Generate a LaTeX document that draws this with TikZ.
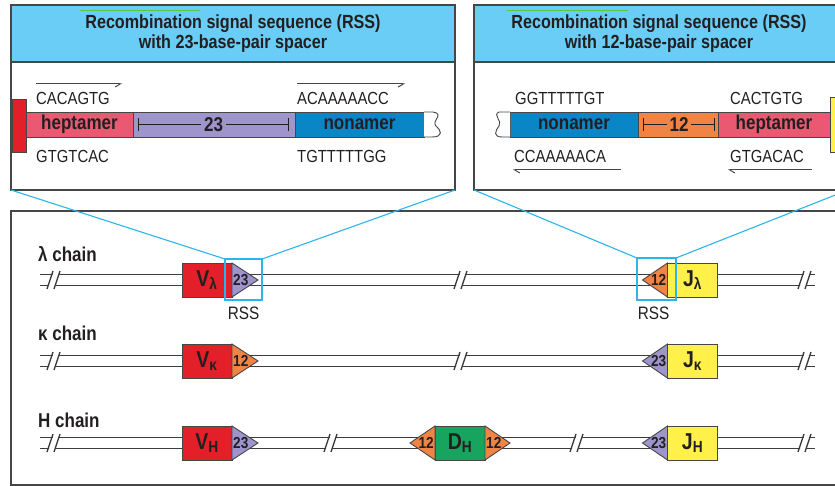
\documentclass[tikz,border=0pt]{standalone}
\usepackage{fontspec}
\setmainfont{Liberation Sans}[FakeStretch=0.85]
\usetikzlibrary{arrows.meta,positioning}
\definecolor{framegray}{RGB}{70,70,70}
\definecolor{strandgray}{RGB}{60,60,60}
\definecolor{inkdark}{RGB}{35,31,32}
\definecolor{hdrblue}{RGB}{106,205,245}
\definecolor{zoomblue}{RGB}{43,181,234}
\definecolor{tickgreen}{RGB}{90,200,60}
\definecolor{vred}{RGB}{227,32,42}
\definecolor{hepcol}{RGB}{233,90,114}
\definecolor{lavcol}{RGB}{157,149,204}
\definecolor{noncol}{RGB}{10,134,199}
\definecolor{orgcol}{RGB}{240,132,68}
\definecolor{yelcol}{RGB}{255,240,74}
\definecolor{grncol}{RGB}{23,164,94}
\tikzset{
  frame/.style={rectangle,draw=framegray,line width=1.3pt,inner sep=0pt,
    outer sep=0pt,anchor=north west},
  hdr/.style={frame,fill=hdrblue},
  title/.style={align=center,text=inkdark,inner sep=0pt,
    font=\fontsize{19}{20}\selectfont\bfseries},
  seg/.style={rectangle,draw=framegray,line width=0.9pt,fill=#1,
    minimum height=25pt,inner sep=0pt,outer sep=0pt,text=inkdark,
    font=\fontsize{20}{21}\selectfont\bfseries},
  endcap/.style={draw=framegray,line width=0.9pt,fill=white},
  seq/.style={anchor=base west,inner sep=0pt,text=inkdark,
    font=\fontsize{17.5}{19}\selectfont},
  readR/.style={draw=framegray,line width=1pt,
    -{Straight Barb[harpoon,swap,length=5pt,width=6pt]}},
  readL/.style={draw=framegray,line width=1pt,
    -{Straight Barb[harpoon,length=5pt,width=6pt]}},
  gene/.style={rectangle,draw=framegray,line width=0.9pt,fill=#1,
    minimum width=50pt,minimum height=34pt,inner sep=0pt,outer sep=0pt,
    text=inkdark,font=\fontsize{23}{24}\selectfont\bfseries},
  rss/.style={draw=framegray,line width=0.9pt,fill=#1},
  rssnum/.style={inner sep=0pt,text=inkdark,
    font=\fontsize{16}{17}\selectfont\bfseries},
  strand/.style={draw=strandgray,line width=1.9pt},
  chain/.style={anchor=base west,inner sep=0pt,text=inkdark,
    font=\fontsize{20}{21}\selectfont\bfseries},
  zoomsq/.style={rectangle,draw=zoomblue,line width=1.1pt,inner sep=0pt,
    outer sep=0pt},
  zoomln/.style={draw=zoomblue,line width=1.1pt},
  dnabrk/.pic={
    \fill[white] (-5,9) -- (1,-9) -- (7,-9) -- (1,9) -- cycle;
    \draw[strandgray,line width=1.4pt] (-6,9) -- (0,-9) (1,9) -- (7,-9);
  },
}
\begin{document}
\begin{tikzpicture}[x=1pt,y=-1pt]
  \useasboundingbox (0,0) rectangle (835,486);

  % --- RSS with 23-bp spacer
  \node[frame,minimum width=444pt,minimum height=185pt] (box23) at (11,5) {};
  \node[hdr,minimum width=444pt,minimum height=57pt] (hdr23) at (11,5) {};
  \node[title] (ttl23) at (233,34)
    {Recombination signal sequence (RSS)\\with 23-base-pair spacer};
  \draw[tickgreen,line width=1pt] (80,11) -- (200,11);

  \node[seg=vred,minimum width=14pt,minimum height=53pt,anchor=north west]
    (flank23) at (12,99) {};
  \node[seg=hepcol,minimum width=107pt,anchor=west] (hep23) at (26,124.5) {heptamer};
  \node[seg=lavcol,minimum width=162pt,right=0pt of hep23] (sp23) {};
  \node[seg=noncol,minimum width=129pt,right=0pt of sp23] (non23) {nonamer};
  \filldraw[endcap] (non23.north east) -- (433,112)
    .. controls (445,114) and (431,121) .. (436,126)
    .. controls (441,130) and (444,137) .. (432,137) -- (non23.south east);
  \draw[{Bar[width=13pt]}-{Bar[width=13pt]},inkdark,line width=0.8pt]
    ([xshift=5pt]sp23.west) -- ([xshift=-6pt]sp23.east)
    node[midway,fill=lavcol,inner sep=3pt,font=\fontsize{20}{21}\selectfont\bfseries] (n23) {23};

  \node[seq] (hepT23) at (36,105) {CACAGTG};
  \node[seq] (hepB23) at (36,163) {GTGTCAC};
  \node[seq] (nonT23) at (297,105) {ACAAAAACC};
  \node[seq] (nonB23) at (297,163) {TGTTTTTGG};
  \coordinate (a1) at (36,84);  \coordinate (a1e) at (122,84);
  \coordinate (a2) at (297,84); \coordinate (a2e) at (405,84);
  \draw[readR] (a1) -- (a1e);
  \draw[readR] (a2) -- (a2e);

  % --- RSS with 12-bp spacer
  \node[frame,minimum width=374pt,minimum height=185pt] (box12) at (474,5) {};
  \node[hdr,minimum width=374pt,minimum height=57pt] (hdr12) at (474,5) {};
  \node[title] (ttl12) at (659,34)
    {Recombination signal sequence (RSS)\\with 12-base-pair spacer};
  \draw[tickgreen,line width=1pt] (507,11) -- (628,11);

  \node[seg=noncol,minimum width=128pt,anchor=west] (non12) at (510,124.5) {nonamer};
  \node[seg=orgcol,minimum width=80pt,right=0pt of non12] (sp12) {};
  \node[seg=hepcol,minimum width=112pt,right=0pt of sp12] (hep12) {heptamer};
  \node[seg=yelcol,minimum width=20pt,minimum height=55pt,anchor=north west]
    (flank12) at (830,97) {};
  \filldraw[endcap] (non12.north west) -- (499,112)
    .. controls (492,115) and (503,121) .. (499,126)
    .. controls (495,131) and (493,137) .. (502,137) -- (non12.south west);
  \draw[{Bar[width=13pt]}-{Bar[width=13pt]},inkdark,line width=0.8pt]
    ([xshift=5pt]sp12.west) -- ([xshift=-3pt]sp12.east)
    node[midway,fill=orgcol,inner sep=3pt,font=\fontsize{20}{21}\selectfont\bfseries] (n12) {12};

  \node[seq] (nonT12) at (515,105) {GGTTTTTGT};
  \node[seq] (nonB12) at (514,163) {CCAAAAACA};
  \node[seq] (hepT12) at (730,105) {CACTGTG};
  \node[seq] (hepB12) at (730,163) {GTGACAC};
  \coordinate (b1) at (621,170); \coordinate (b1e) at (513,170);
  \coordinate (b2) at (812,170); \coordinate (b2e) at (728,170);
  \draw[readL] (b1) -- (b1e);
  \draw[readL] (b2) -- (b2e);

  % --- germline loci
  \node[frame,minimum width=837pt,minimum height=274pt] (genome) at (11,211) {};

  \node[chain] (lamlab) at (38,262) {λ chain};
  \node[chain] (kaplab) at (38,340) {κ chain};
  \node[chain] (hvylab) at (38,427) {H chain};

  \coordinate (lamA) at (40,280); \coordinate (lamB) at (815,280);
  \coordinate (kapA) at (40,361); \coordinate (kapB) at (815,361);
  \coordinate (hvyA) at (40,443); \coordinate (hvyB) at (815,443);
  \draw[strand] ([yshift=5.5pt]lamA) -- ([yshift=5.5pt]lamB)
    ([yshift=-5.5pt]lamA) -- ([yshift=-5.5pt]lamB);
  \draw[strand] ([yshift=5.5pt]kapA) -- ([yshift=5.5pt]kapB)
    ([yshift=-5.5pt]kapA) -- ([yshift=-5.5pt]kapB);
  \draw[strand] ([yshift=5.5pt]hvyA) -- ([yshift=5.5pt]hvyB)
    ([yshift=-5.5pt]hvyA) -- ([yshift=-5.5pt]hvyB);

  \pic at (53,280) {dnabrk};  \pic at (460,280) {dnabrk}; \pic at (804,280) {dnabrk};
  \pic at (53,361) {dnabrk};  \pic at (460,361) {dnabrk}; \pic at (804,361) {dnabrk};
  \pic at (53,443) {dnabrk};  \pic at (330,443) {dnabrk};
  \pic at (576,443) {dnabrk}; \pic at (804,443) {dnabrk};

  % lambda
  \node[gene=vred] (vlam) at (207,280) {V\textsubscript{λ}};
  \filldraw[rss=lavcol] (vlam.north east) -- ([xshift=26pt]vlam.east)
    -- (vlam.south east) -- cycle;
  \node[rssnum,anchor=west] (rvlam) at ([xshift=1pt]vlam.east) {23};
  \node[gene=yelcol] (jlam) at (692.5,280) {J\textsubscript{λ}};
  \filldraw[rss=orgcol] (jlam.north west) -- ([xshift=-25pt]jlam.west)
    -- (jlam.south west) -- cycle;
  \node[rssnum,anchor=east] (rjlam) at ([xshift=-1pt]jlam.west) {12};

  % kappa
  \node[gene=vred] (vkap) at (207,361) {V\textsubscript{κ}};
  \filldraw[rss=orgcol] (vkap.north east) -- ([xshift=26pt]vkap.east)
    -- (vkap.south east) -- cycle;
  \node[rssnum,anchor=west] (rvkap) at ([xshift=1pt]vkap.east) {12};
  \node[gene=yelcol] (jkap) at (692.5,361) {J\textsubscript{κ}};
  \filldraw[rss=lavcol] (jkap.north west) -- ([xshift=-25pt]jkap.west)
    -- (jkap.south west) -- cycle;
  \node[rssnum,anchor=east] (rjkap) at ([xshift=-1pt]jkap.west) {23};

  % heavy
  \node[gene=vred] (vhvy) at (207,443) {V\textsubscript{H}};
  \filldraw[rss=lavcol] (vhvy.north east) -- ([xshift=26pt]vhvy.east)
    -- (vhvy.south east) -- cycle;
  \node[rssnum,anchor=west] (rvhvy) at ([xshift=1pt]vhvy.east) {23};
  \node[gene=grncol] (dhvy) at (460,443) {D\textsubscript{H}};
  \filldraw[rss=orgcol] (dhvy.north west) -- ([xshift=-25pt]dhvy.west)
    -- (dhvy.south west) -- cycle;
  \node[rssnum,anchor=east] (rdl) at ([xshift=-1pt]dhvy.west) {12};
  \filldraw[rss=orgcol] (dhvy.north east) -- ([xshift=25pt]dhvy.east)
    -- (dhvy.south east) -- cycle;
  \node[rssnum,anchor=west] (rdr) at ([xshift=1pt]dhvy.east) {12};
  \node[gene=yelcol] (jhvy) at (692.5,443) {J\textsubscript{H}};
  \filldraw[rss=lavcol] (jhvy.north west) -- ([xshift=-25pt]jhvy.west)
    -- (jhvy.south west) -- cycle;
  \node[rssnum,anchor=east] (rjhvy) at ([xshift=-1pt]jhvy.west) {23};

  % zoom-in marks
  \node[zoomsq,minimum width=37pt,minimum height=41pt] (sq23) at (243.5,279.5) {};
  \node[zoomsq,minimum width=39pt,minimum height=42pt] (sq12) at (656.5,279) {};
  \node[inner sep=0pt,below=7pt of sq23,text=inkdark,
    font=\fontsize{18}{19}\selectfont] (rss23) {RSS};
  \node[inner sep=0pt,below=7pt of sq12,xshift=-3pt,text=inkdark,
    font=\fontsize{18}{19}\selectfont] (rss12) {RSS};
  \draw[zoomln] (box23.south west) -- (sq23.north west);
  \draw[zoomln] (box23.south east) -- (sq23.north east);
  \draw[zoomln] (box12.south west) -- (sq12.north west);
  \draw[zoomln] (box12.south east) -- (sq12.north east);
\end{tikzpicture}
\end{document}
